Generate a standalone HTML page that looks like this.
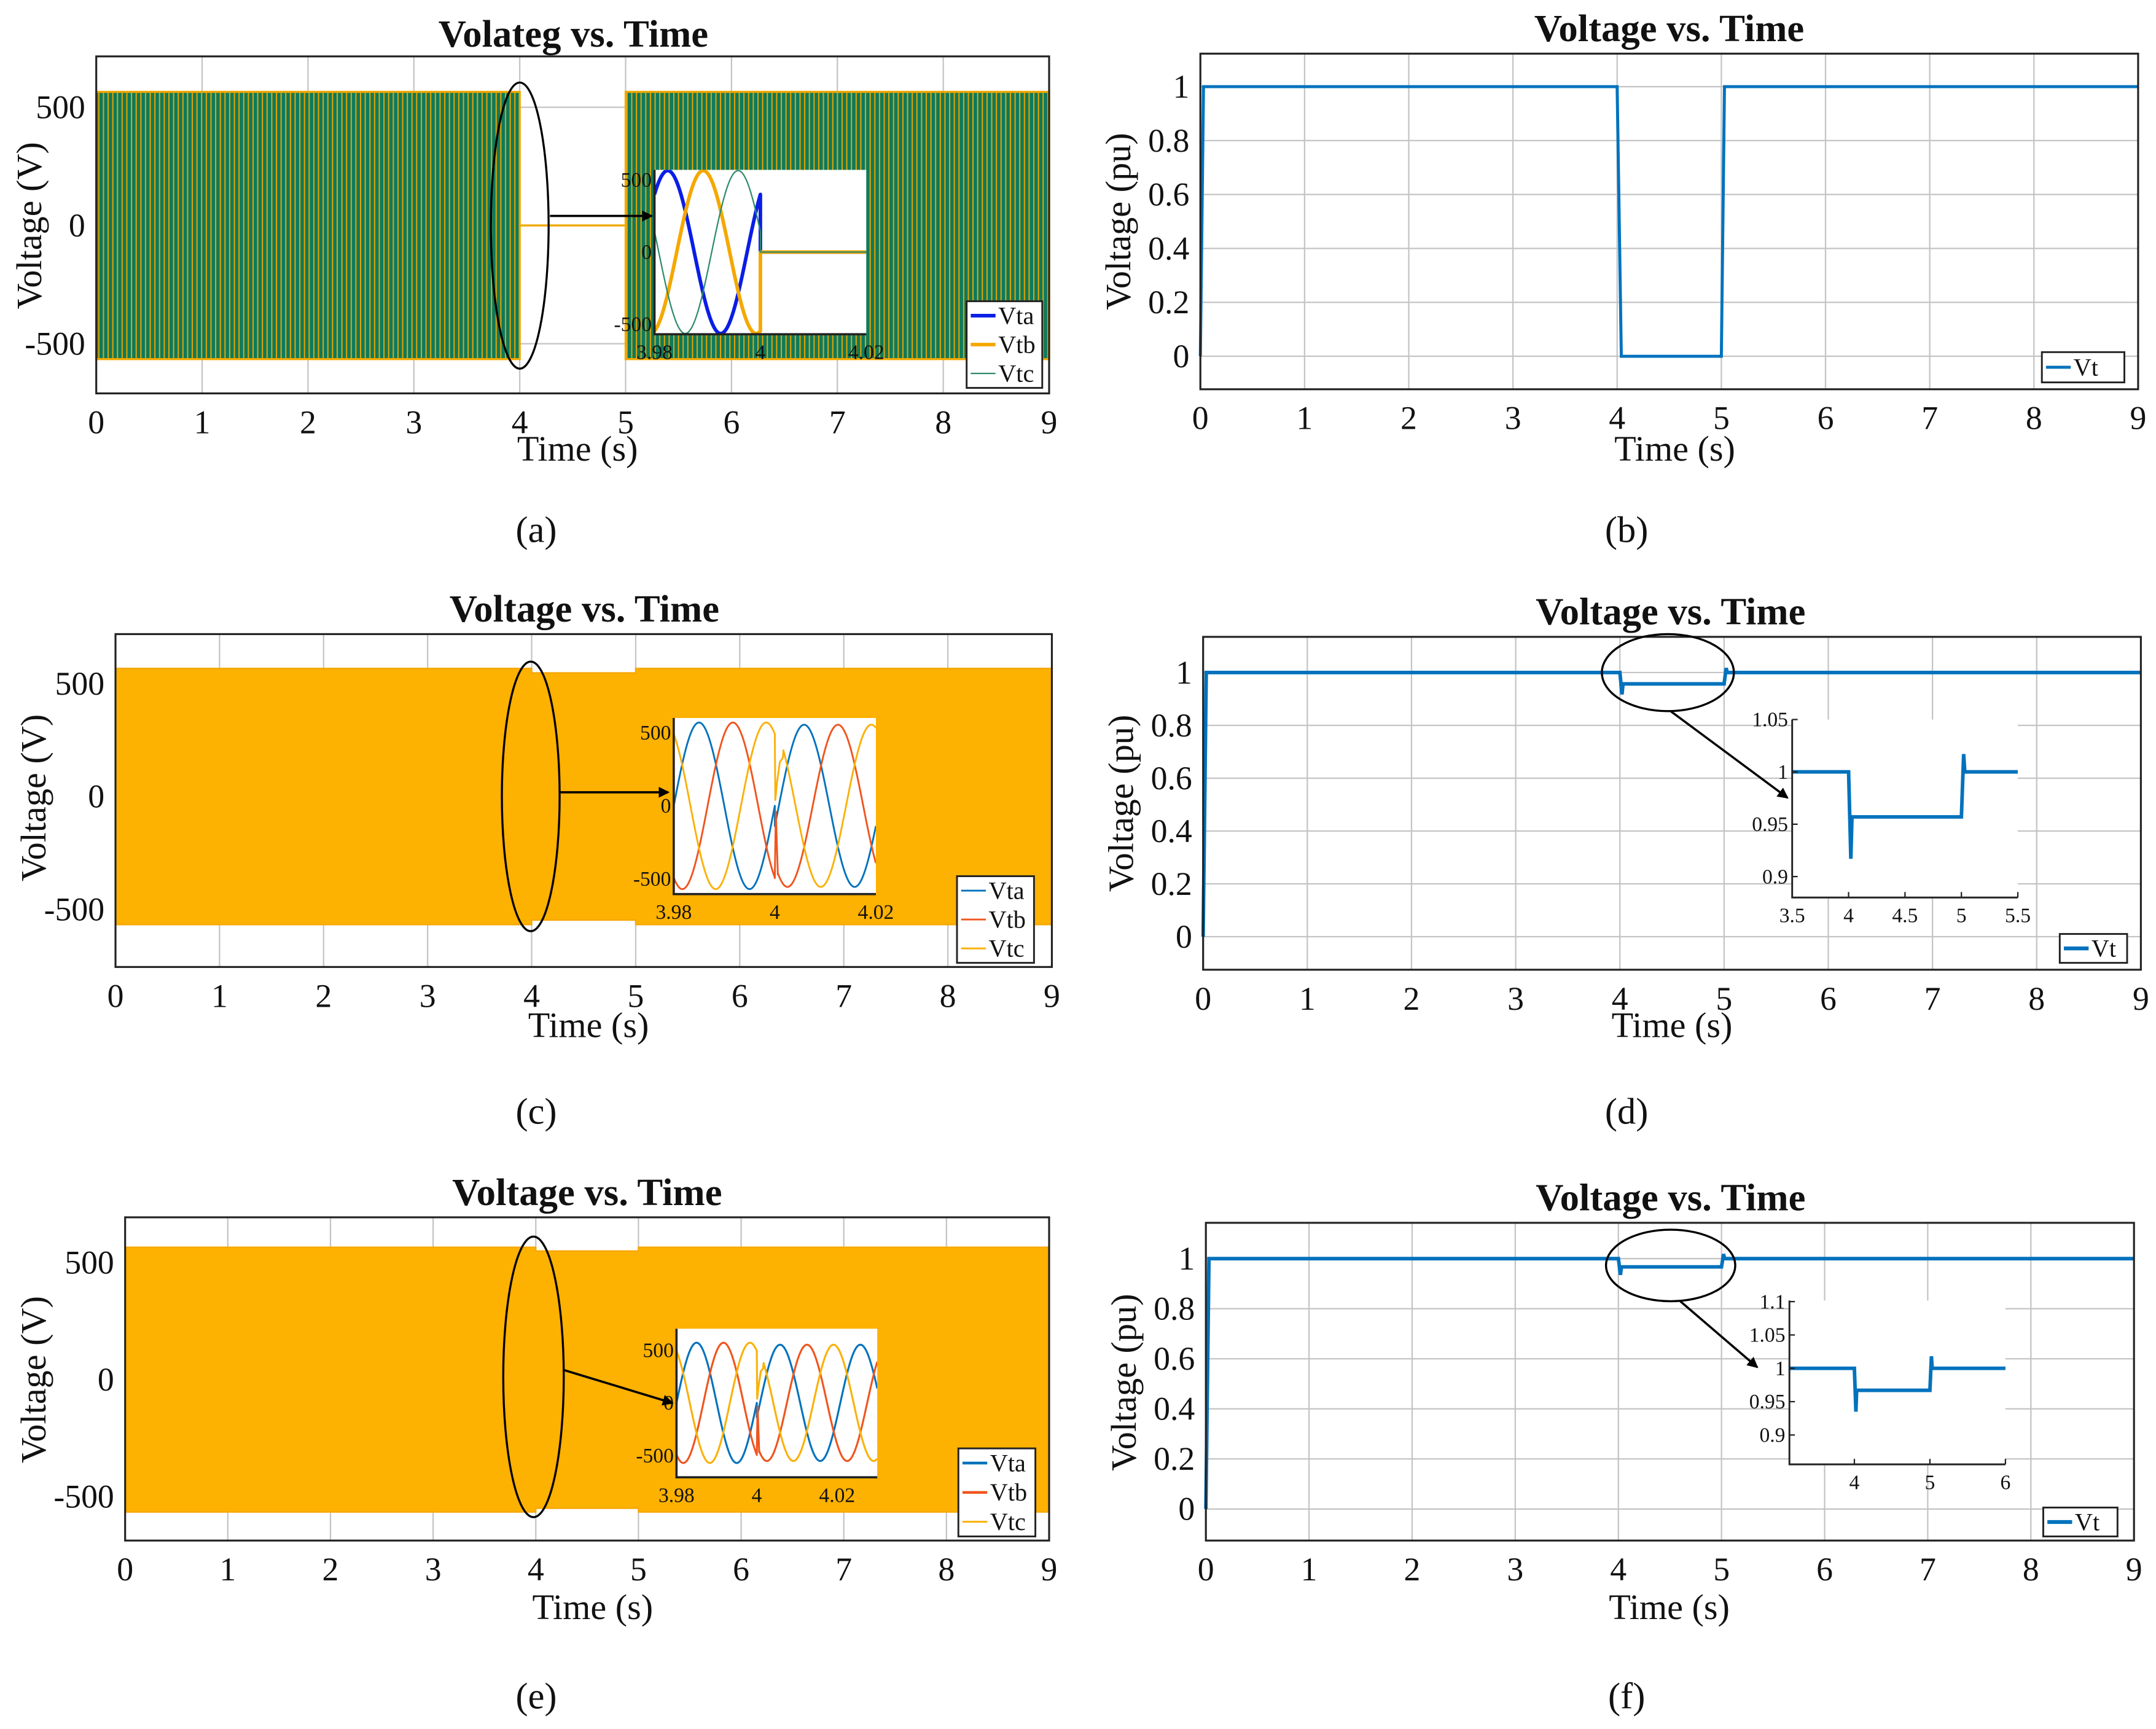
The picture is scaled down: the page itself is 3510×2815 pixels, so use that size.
<!DOCTYPE html>
<html><head><meta charset="utf-8"><style>
html,body{margin:0;padding:0;background:#fff;width:3510px;height:2815px;overflow:hidden;position:relative;}
svg{display:block;position:absolute;left:0;top:0;overflow:hidden;}
text{font-family:"Liberation Serif","DejaVu Serif",serif;fill:#111;}
</style></head><body>
<svg id="fig" xmlns="http://www.w3.org/2000/svg" width="3510" height="2815" viewBox="0 0 1568 1257" preserveAspectRatio="none">
<defs>
<pattern id="greenStripes" patternUnits="userSpaceOnUse" width="3.4" height="10">
<rect x="0" y="0" width="3.4" height="10" fill="#0d7a5c"/>
<rect x="0" y="0" width="0.9" height="10" fill="#e8a400"/>
</pattern>
<marker id="arrowHead" markerWidth="8" markerHeight="8" refX="7" refY="4" orient="auto" markerUnits="userSpaceOnUse">
<path d="M0,0 L8,4 L0,8 Z" fill="#000"/>
</marker>
</defs>
</svg>
<script>
// ---------- DATA ----------
const xTicks=[0,1,2,3,4,5,6,7,8,9];
const voltTicks=[-500,0,500];
const puTicks=[0,0.2,0.4,0.6,0.8,1];
const phaseNames=['Vta','Vtb','Vtc'];
const envA_t=[0,4,4,5,5,9];
const envA_amp=[565,565,0,0,565,565];
const envC_t=[0,4,4,5,5,9];
const envC_amp=[568,568,548,548,568,568];
const envE_t=[0,4,4,5,5,9];
const envE_amp=[566,566,550,550,566,566];
const vtB_t=[0,0.03,4,4.04,5,5.03,9];
const vtB_v=[0,1,1,0,0,1,1];
const vtD_t=[0,0.03,4,4.02,4.03,5,5.02,5.03,9];
const vtD_v=[0,1,1,0.917,0.957,0.957,1.017,1,1];
const vtF_t=[0,0.03,4,4.02,4.03,5,5.02,5.03,9];
const vtF_v=[0,1,1,0.935,0.967,0.967,1.018,1,1];
const insA_prePeak=[3.9825,3.9892,3.9958];
const insA_preAmp=[565,565,565];
const insA_postPeak=[4.0,4.0,4.0];
const insA_postAmp=[0,0,0];
const insC_prePeak=[3.985,3.9917,3.9983];
const insC_preAmp=[570,570,570];
const insC_postPeak=[4.0058,4.0125,4.0191];
const insC_postAmp=[555,555,555];
const insE_prePeak=[3.985,3.9917,3.9983];
const insE_preAmp=[572,572,572];
const insE_postPeak=[4.0058,4.0125,4.0191];
const insE_postAmp=[553,553,553];
const trB_t=[4.0,4.0002,4.0006];
const trB_v=[-495,-40,-470];
const trC_t=[4.0,4.0001,4.0004,4.001,4.0016];
const trC_v=[494,40,150,300,330];
const FREQ=50, FAULT=4.0;

const NS='http://www.w3.org/2000/svg';
const svg=document.getElementById('fig');
function el(tag,parent,attrs,txt){const e=document.createElementNS(NS,tag);for(const k in attrs)e.setAttribute(k,attrs[k]);if(txt!==undefined)e.textContent=txt;parent.appendChild(e);return e;}
function lin(d0,d1,r0,r1){return v=>r0+(v-d0)*(r1-r0)/(d1-d0);}

function makeAxes(g,box,xlim,ylim){
  return {sx:lin(xlim[0],xlim[1],box[0],box[1]),sy:lin(ylim[0],ylim[1],box[3],box[2])};
}
function drawGrid(g,box,ax,xt,yt){
  xt.forEach(v=>{const l=el('line',g,{x1:ax.sx(v),x2:ax.sx(v),y1:box[2],y2:box[3],stroke:'#c4c4c4','stroke-width':1});
    
    });
  yt.forEach(v=>{const l=el('line',g,{x1:box[0],x2:box[1],y1:ax.sy(v),y2:ax.sy(v),stroke:'#c4c4c4','stroke-width':1});
    
    });
}
function drawFrame(g,box,ax,xt,yt,ytl,fs){
  const f=el('rect',g,{x:box[0],y:box[2],width:box[1]-box[0],height:box[3]-box[2],fill:'none',stroke:'#222','stroke-width':1.4});
  
  
  xt.forEach(v=>{const t=el('text',g,{x:ax.sx(v),y:box[3]+29,'text-anchor':'middle','font-size':fs},String(v));
    
    });
  yt.forEach((v,i)=>{const t=el('text',g,{x:box[0]-8,y:ax.sy(v)+8,'text-anchor':'end','font-size':fs},ytl[i]);
    
    });
}
function linePath(ts,vs,ax){return ts.map((t,i)=>(i?'L':'M')+ax.sx(t).toFixed(2)+','+ax.sy(vs[i]).toFixed(2)).join('');}
function envPath(ts,amps,ax){
  let d=ts.map((t,i)=>(i?'L':'M')+ax.sx(t).toFixed(2)+','+ax.sy(amps[i]).toFixed(2)).join('');
  for(let i=ts.length-1;i>=0;i--)d+='L'+ax.sx(ts[i]).toFixed(2)+','+ax.sy(-amps[i]).toFixed(2);
  return d+'Z';
}
function texts(g,title,tx,ty,ylab,ylx,yly,xlx,xly,cap,cx,cy){
  const t=el('text',g,{x:tx,y:ty,'text-anchor':'middle','font-size':28,'font-weight':'bold'},title);
  
  
  const y=el('text',g,{x:ylx,y:yly,'text-anchor':'middle','font-size':26,transform:`rotate(-90 ${ylx} ${yly})`},ylab);
  
  
  const x=el('text',g,{x:xlx,y:xly,'text-anchor':'middle','font-size':26},'Time (s)');
  
  
  const c=el('text',g,{x:cx,y:cy,'text-anchor':'middle','font-size':27},cap);
  
  
}
function legend(g,box,names,colors,widths){
  const r=el('rect',g,{x:box[0],y:box[1],width:box[2],height:box[3],fill:'#fff',stroke:'#222','stroke-width':1.3});
  
  
  const step=box[3]/names.length;
  names.forEach((n,i)=>{const cy=box[1]+step*(i+0.5);
    const l=el('line',g,{x1:box[0]+3,x2:box[0]+21,y1:cy,y2:cy,stroke:colors[i],'stroke-width':widths[i]});
    
    
    const t=el('text',g,{x:box[0]+23,y:cy+6,'font-size':18},n);
    
    });
}
function ellipse(g,cx,cy,rx,ry,x1,y1,x2,y2){
  const e=el('ellipse',g,{cx,cy,rx,ry,fill:'none',stroke:'#000','stroke-width':1.5});
  
  
  const a=el('line',g,{x1,y1,x2,y2,stroke:'#000','stroke-width':1.6,'marker-end':'url(#arrowHead)'});
  
  
}
function phaseWave(k,xlim,prePeak,preAmp,postPeak,postAmp,trT,trV){
  const ts=[],vs=[];const w=2*Math.PI*FREQ;const dt=0.0001;
  for(let t=xlim[0];t<FAULT;t+=dt){ts.push(t);vs.push(preAmp[k]*Math.cos(w*(t-prePeak[k])));}
  ts.push(FAULT-1e-7);vs.push(preAmp[k]*Math.cos(w*(FAULT-prePeak[k])));
  let start=FAULT;
  if(trT){trT.forEach((t,i)=>{ts.push(t);vs.push(trV[i]);});start=trT[trT.length-1]+dt;}
  for(let t=start;t<=xlim[1]+1e-9;t+=dt){ts.push(t);vs.push(postAmp[k]*Math.cos(w*(t-postPeak[k])));}
  return [ts,vs];
}
function voltInset(g,box,xlim,ylim,xt,xtl,pre,preA,post,postA,colors,widths,trans){
  const ax=makeAxes(g,box,xlim,ylim);
  const bg=el('rect',g,{x:box[0],y:box[2],width:box[1]-box[0],height:box[3]-box[2],fill:'#fff'});
  
  
  const cp='clip'+Math.round(box[0])+Math.round(box[2]);
  const c=el('clipPath',g,{id:cp});el('rect',c,{x:box[0],y:box[2],width:box[1]-box[0],height:box[3]-box[2]});
  [0,1,2].forEach(k=>{
    const tr=trans[k];
    const [ts,vs]=phaseWave(k,xlim,pre,preA,post,postA,tr?tr[0]:null,tr?tr[1]:null);
    const p=el('path',g,{d:linePath(ts,vs,ax),fill:'none',stroke:colors[k],'stroke-width':widths[k],'clip-path':`url(#${cp})`,'stroke-linejoin':'round'});
    
    
  });
  const axl=el('path',g,{d:`M${box[0]},${box[2]}V${box[3]}H${box[1]}`,fill:'none',stroke:'#222','stroke-width':1.6});
  
  
  voltTicks.forEach(v=>{const t=el('text',g,{x:box[0]-2,y:ax.sy(v)+5,'text-anchor':'end','font-size':15},String(v));
    
    });
  xt.forEach((v,i)=>{const t=el('text',g,{x:ax.sx(v),y:box[3]+18,'text-anchor':'middle','font-size':15},xtl[i]);
    
    });
}
function puInset(g,box,xlim,ylim,xt,yt,ts,vs){
  const ax=makeAxes(g,box,xlim,ylim);
  const bg=el('rect',g,{x:box[0],y:box[2],width:box[1]-box[0],height:box[3]-box[2],fill:'#fff'});
  
  
  const cp='clip'+Math.round(box[0])+Math.round(box[2]);
  const c=el('clipPath',g,{id:cp});el('rect',c,{x:box[0],y:box[2]-3,width:box[1]-box[0],height:box[3]-box[2]+3});
  const p=el('path',g,{d:linePath(ts,vs,ax),fill:'none',stroke:'#0072bd','stroke-width':2.6,'clip-path':`url(#${cp})`});
  
  
  const axl=el('path',g,{d:`M${box[0]},${box[2]}V${box[3]}H${box[1]}`,fill:'none',stroke:'#222','stroke-width':1.3});
  
  
  yt.forEach(v=>{el('line',g,{x1:box[0],x2:box[0]+4,y1:ax.sy(v),y2:ax.sy(v),stroke:'#222'});
    const t=el('text',g,{x:box[0]-3,y:ax.sy(v)+5,'text-anchor':'end','font-size':15},String(v));
    
    });
  xt.forEach(v=>{el('line',g,{x1:ax.sx(v),x2:ax.sx(v),y1:box[3],y2:box[3]-4,stroke:'#222'});
    const t=el('text',g,{x:ax.sx(v),y:box[3]+18,'text-anchor':'middle','font-size':15},String(v));
    
    });
}
function group(name){const g=el('g',svg,{});return g;}

// ---------- PANEL A ----------
(function(){
  const g=group('panel-a');const box=[70,763,41,286];
  const ax=makeAxes(g,box,[0,9],[-710,715]);
  drawGrid(g,box,ax,xTicks,voltTicks);
  const env=el('path',g,{d:envPath(envA_t,envA_amp,ax),fill:'url(#greenStripes)',stroke:'#f0a800','stroke-width':1.5});
  
  
  drawFrame(g,box,ax,xTicks,voltTicks,voltTicks.map(String),24);
  texts(g,'Volateg vs. Time',417,34,'Voltage (V)',30,164,420,335,'(a)',390,394);
  voltInset(g,[476,630,123.5,243],[3.98,4.02],[-570,570],[3.98,4,4.02],['3.98','4','4.02'],
    insA_prePeak,insA_preAmp,insA_postPeak,insA_postAmp,['#0a1ee6','#f5a800','#2e8b6a'],[2.6,2.6,1],[null,null,null]);
  legend(g,[703,219,55,63],phaseNames,['#0a1ee6','#f5a800','#2e8b6a'],[2.6,2.6,1]);
  ellipse(g,378,164,21,104,400,157,474,157);
})();
// ---------- PANEL C ----------
(function(){
  const g=group('panel-c');const box=[84,765,461,703];
  const ax=makeAxes(g,box,[0,9],[-756,720]);
  drawGrid(g,box,ax,xTicks,voltTicks);
  const env=el('path',g,{d:envPath(envC_t,envC_amp,ax),fill:'#fdb100',stroke:'#f7a600','stroke-width':1});
  
  
  drawFrame(g,box,ax,xTicks,voltTicks,voltTicks.map(String),24);
  texts(g,'Voltage vs. Time',425,452,'Voltage (V)',33,580,428,754,'(c)',390,817);
  voltInset(g,[490,637,522,650],[3.98,4.02],[-604,601],[3.98,4,4.02],['3.98','4','4.02'],
    insC_prePeak,insC_preAmp,insC_postPeak,insC_postAmp,['#0072bd','#f0541e','#fbb10a'],[1.3,1.3,1.3],[null,[trB_t,trB_v],[trC_t,trC_v]]);
  legend(g,[696,637,56,63],phaseNames,['#0072bd','#f0541e','#fbb10a'],[1.3,1.3,1.3]);
  ellipse(g,386,579,21,98,407,576,486,576);
})();
// ---------- PANEL E ----------
(function(){
  const g=group('panel-e');const box=[91,763,885,1120];
  const ax=makeAxes(g,box,[0,9],[-688,694]);
  drawGrid(g,box,ax,xTicks,voltTicks);
  const env=el('path',g,{d:envPath(envE_t,envE_amp,ax),fill:'#fdb100',stroke:'#f7a600','stroke-width':1});
  
  
  drawFrame(g,box,ax,xTicks,voltTicks,voltTicks.map(String),24);
  texts(g,'Voltage vs. Time',427,876,'Voltage (V)',33,1003,431,1177,'(e)',390,1242);
  voltInset(g,[492,638,966,1074],[3.98,4.03],[-708,705],[3.98,4,4.02],['3.98','4','4.02'],
    insE_prePeak,insE_preAmp,insE_postPeak,insE_postAmp,['#0072bd','#f0541e','#fbb10a'],[1.4,1.4,1.4],[null,[trB_t,trB_v],[trC_t,trC_v]]);
  legend(g,[697,1053,56,64],phaseNames,['#0072bd','#f0541e','#fbb10a'],[2,2,1.4]);
  ellipse(g,388,1001,22,102,410,996,489,1020);
})();
// ---------- PANEL B ----------
(function(){
  const g=group('panel-b');const box=[873,1555,39,283];
  const ax=makeAxes(g,box,[0,9],[-0.1224,1.1224]);
  drawGrid(g,box,ax,xTicks,puTicks);
  const p=el('path',g,{d:linePath(vtB_t,vtB_v,ax),fill:'none',stroke:'#0072bd','stroke-width':2.2});
  
  
  drawFrame(g,box,ax,xTicks,puTicks,puTicks.map(String),24);
  texts(g,'Voltage vs. Time',1214,30,'Voltage (pu)',822,161,1218,335,'(b)',1183,394);
  legend(g,[1485,256,60,22],['Vt'],['#0072bd'],[2.2]);
})();
// ---------- PANEL D ----------
(function(){
  const g=group('panel-d');const box=[875,1557,463,705];
  const ax=makeAxes(g,box,[0,9],[-0.125,1.135]);
  drawGrid(g,box,ax,xTicks,puTicks);
  const p=el('path',g,{d:linePath(vtD_t,vtD_v,ax),fill:'none',stroke:'#0072bd','stroke-width':2.6});
  
  
  drawFrame(g,box,ax,xTicks,puTicks,puTicks.map(String),24);
  texts(g,'Voltage vs. Time',1215,454,'Voltage (pu)',824,584,1216,754,'(d)',1183,817);
  puInset(g,[1303.4,1467.5,523.1,652.5],[3.5,5.5],[0.88,1.05],[3.5,4,4.5,5,5.5],[0.9,0.95,1,1.05],vtD_t,vtD_v);
  legend(g,[1498,679,49,21],['Vt'],['#0072bd'],[2.8]);
  ellipse(g,1213,489,48,28,1215,517,1300,580);
})();
// ---------- PANEL F ----------
(function(){
  const g=group('panel-f');const box=[877,1552,889,1120];
  const ax=makeAxes(g,box,[0,9],[-0.126,1.143]);
  drawGrid(g,box,ax,xTicks,puTicks);
  const p=el('path',g,{d:linePath(vtF_t,vtF_v,ax),fill:'none',stroke:'#0072bd','stroke-width':2.6});
  
  
  drawFrame(g,box,ax,xTicks,puTicks,puTicks.map(String),24);
  texts(g,'Voltage vs. Time',1215,880,'Voltage (pu)',826,1005,1214,1177,'(f)',1183,1242);
  puInset(g,[1301.4,1458.5,945.5,1064.6],[3.14,6],[0.856,1.1016],[4,5,6],[0.9,0.95,1,1.05,1.1],vtF_t,vtF_v);
  legend(g,[1486,1096,54,21],['Vt'],['#0072bd'],[2.8]);
  ellipse(g,1215,920,47,26,1222,946,1278,994);
})();
</script>
</body></html>
